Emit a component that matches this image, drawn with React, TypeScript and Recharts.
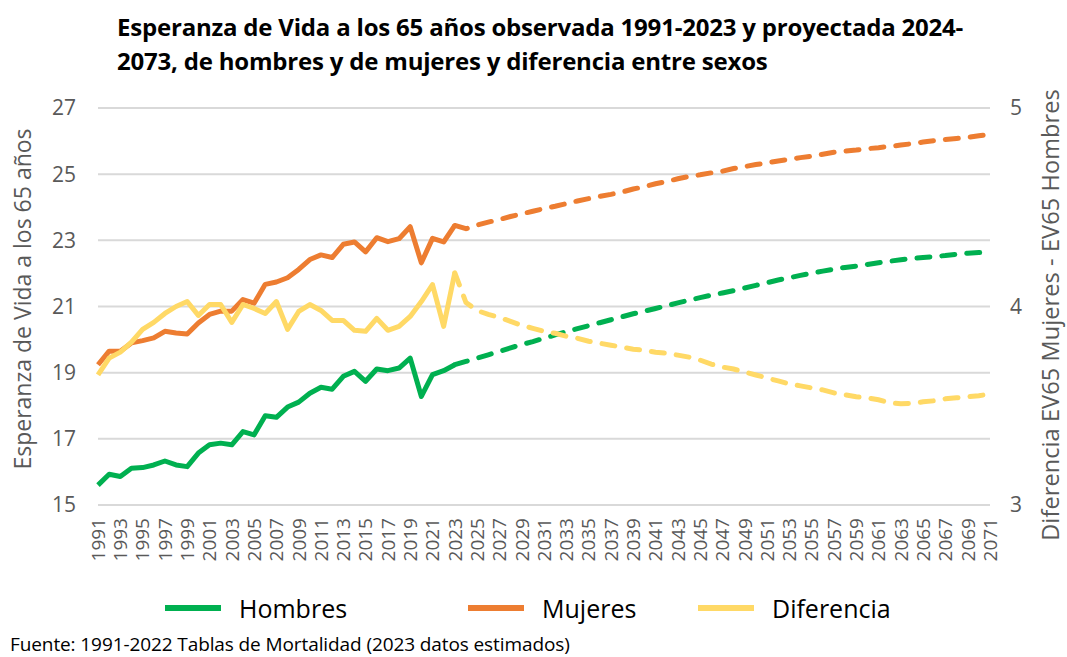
import { LineChart, Line, XAxis, YAxis, CartesianGrid } from "recharts";

const FIRST_YEAR = 1991;
const LAST_YEAR = 2071;
const PROJ_START = 2023;

const YEARS = Array.from({ length: LAST_YEAR - FIRST_YEAR + 1 }, (_, i) => FIRST_YEAR + i);

// observed 1991-2023
const HOMBRES_OBS = [15.6, 15.93, 15.86, 16.11, 16.13, 16.21, 16.33, 16.21, 16.16, 16.57, 16.82, 16.87, 16.82, 17.22, 17.12, 17.7, 17.65, 17.96, 18.11, 18.38, 18.56, 18.5, 18.89, 19.04, 18.74, 19.11, 19.06, 19.14, 19.44, 18.28, 18.94, 19.06, 19.24];
const MUJERES_OBS = [19.24, 19.65, 19.65, 19.9, 19.97, 20.05, 20.25, 20.2, 20.17, 20.5, 20.76, 20.86, 20.86, 21.21, 21.1, 21.67, 21.74, 21.87, 22.12, 22.42, 22.56, 22.48, 22.88, 22.95, 22.65, 23.08, 22.96, 23.05, 23.41, 22.32, 23.06, 22.95, 23.45];
const DIFERENCIA_OBS = [3.655, 3.74, 3.77, 3.82, 3.885, 3.92, 3.965, 4.0, 4.025, 3.955, 4.01, 4.01, 3.92, 4.01, 3.99, 3.965, 4.025, 3.885, 3.975, 4.01, 3.98, 3.93, 3.93, 3.88, 3.875, 3.94, 3.88, 3.9, 3.95, 4.025, 4.11, 3.9, 4.17];

// projected 2023-2071
const HOMBRES_PROJ = [19.24, 19.34, 19.44, 19.54, 19.64, 19.75, 19.85, 19.94, 20.04, 20.14, 20.24, 20.33, 20.42, 20.51, 20.6, 20.69, 20.78, 20.86, 20.94, 21.02, 21.11, 21.19, 21.27, 21.34, 21.41, 21.48, 21.56, 21.64, 21.72, 21.8, 21.87, 21.94, 22.01, 22.07, 22.13, 22.18, 22.22, 22.27, 22.32, 22.37, 22.41, 22.45, 22.48, 22.51, 22.54, 22.58, 22.61, 22.63, 22.65];
const MUJERES_PROJ = [23.45, 23.35, 23.46, 23.55, 23.63, 23.72, 23.8, 23.88, 23.96, 24.03, 24.11, 24.19, 24.26, 24.33, 24.39, 24.46, 24.55, 24.62, 24.71, 24.78, 24.86, 24.93, 24.98, 25.04, 25.09, 25.17, 25.23, 25.29, 25.34, 25.4, 25.45, 25.5, 25.54, 25.6, 25.66, 25.7, 25.73, 25.77, 25.8, 25.84, 25.88, 25.92, 25.97, 26.01, 26.05, 26.08, 26.11, 26.16, 26.21];
const DIFERENCIA_PROJ = [4.17, 4.02, 3.98, 3.96, 3.945, 3.925, 3.905, 3.89, 3.875, 3.865, 3.85, 3.84, 3.825, 3.815, 3.805, 3.795, 3.785, 3.78, 3.77, 3.765, 3.755, 3.745, 3.73, 3.71, 3.695, 3.685, 3.67, 3.655, 3.64, 3.625, 3.61, 3.6, 3.59, 3.58, 3.565, 3.555, 3.545, 3.54, 3.53, 3.515, 3.51, 3.512, 3.52, 3.525, 3.535, 3.54, 3.545, 3.55, 3.56];

const LEFT_TICKS = [15, 17, 19, 21, 23, 25, 27];
const RIGHT_TICKS = [3, 4, 5];

const GREEN = "#00B050";
const ORANGE = "#ED7D31";
const YELLOW = "#FFD966";
const GREY = "#595959";
const FONT = "'Open Sans', Lato, sans-serif";

const data = YEARS.map((year, i) => {
  const j = year - PROJ_START;
  return {
    year: String(year),
    hObs: HOMBRES_OBS[i],
    mObs: MUJERES_OBS[i],
    dObs: DIFERENCIA_OBS[i],
    hProj: j >= 0 ? HOMBRES_PROJ[j] : undefined,
    mProj: j >= 0 ? MUJERES_PROJ[j] : undefined,
    dProj: j >= 0 ? DIFERENCIA_PROJ[j] : undefined,
  };
});

const YearTick = (props: any) => {
  const { x, y, payload } = props;
  const ty = y + 5;
  return (
    <text x={x} y={ty} transform={`rotate(-90 ${x} ${ty})`} textAnchor="end" dy="0.36em" fill={GREY} fontSize={19} fontFamily={FONT}>
      {payload.value}
    </text>
  );
};

const LEGEND = [
  { label: "Hombres", color: GREEN, x: 165 },
  { label: "Mujeres", color: ORANGE, x: 468 },
  { label: "Diferencia", color: YELLOW, x: 698 },
];

export default function App() {
  const dash = "13 12";
  const w = 5;
  return (
    <div style={{ position: "absolute", left: 0, top: 0, width: 1067, height: 657, background: "#fff", fontFamily: FONT, overflow: "hidden" }}>
      <div style={{ position: "absolute", left: 117, top: 10, fontSize: 24, fontWeight: 700, lineHeight: "34px", color: "#000", whiteSpace: "nowrap", letterSpacing: -0.2 }}>
        Esperanza de Vida a los 65 años observada 1991-2023 y proyectada 2024-
        <br />
        2073, de hombres y de mujeres y diferencia entre sexos
      </div>

      <LineChart width={1067} height={657} data={data} margin={{ top: 108, right: 27, bottom: 92, left: 38 }}>
        <CartesianGrid yAxisId="left" vertical={false} stroke="#D9D9D9" strokeWidth={2} />
        <XAxis dataKey="year" interval={1} axisLine={false} tickLine={false} tick={<YearTick />} height={60} />
        <YAxis yAxisId="left" domain={[15, 27]} ticks={LEFT_TICKS} width={60} axisLine={false} tickLine={false} tickMargin={16} tick={{ fill: GREY, fontSize: 21, fontFamily: FONT }} />
        <YAxis yAxisId="right" orientation="right" domain={[3, 5]} ticks={RIGHT_TICKS} width={50} axisLine={false} tickLine={false} tickMargin={14} tick={{ fill: GREY, fontSize: 21, fontFamily: FONT, textAnchor: "start" }} />

        <Line yAxisId="left" dataKey="hObs" stroke={GREEN} strokeWidth={w} dot={false} isAnimationActive={false} strokeLinejoin="round" />
        <Line yAxisId="left" dataKey="mObs" stroke={ORANGE} strokeWidth={w} dot={false} isAnimationActive={false} strokeLinejoin="round" />
        <Line yAxisId="right" dataKey="dObs" stroke={YELLOW} strokeWidth={w} dot={false} isAnimationActive={false} strokeLinejoin="round" />
        <Line yAxisId="left" dataKey="hProj" stroke={GREEN} strokeWidth={w} strokeDasharray={dash} strokeLinecap="round" dot={false} isAnimationActive={false} />
        <Line yAxisId="left" dataKey="mProj" stroke={ORANGE} strokeWidth={w} strokeDasharray={dash} strokeLinecap="round" dot={false} isAnimationActive={false} />
        <Line yAxisId="right" dataKey="dProj" stroke={YELLOW} strokeWidth={w} strokeDasharray={dash} strokeLinecap="round" dot={false} isAnimationActive={false} />
      </LineChart>

      <div style={{ position: "absolute", left: 22, top: 299, transform: "translate(-50%, -50%) rotate(-90deg)", fontSize: 23, color: GREY, whiteSpace: "nowrap" }}>
        Esperanza de Vida a los 65 años
      </div>
      <div style={{ position: "absolute", left: 1050, top: 315, transform: "translate(-50%, -50%) rotate(-90deg)", fontSize: 23.5, color: GREY, whiteSpace: "nowrap", letterSpacing: 0.1 }}>
        Diferencia EV65 Mujeres - EV65 Hombres
      </div>

      {LEGEND.map((l) => (
        <div key={l.label} style={{ position: "absolute", left: l.x, top: 592, height: 32, display: "flex", alignItems: "center" }}>
          <div style={{ width: 56, height: 6, background: l.color, marginRight: 18 }} />
          <span style={{ fontSize: 25, color: "#000" }}>{l.label}</span>
        </div>
      ))}

      <div style={{ position: "absolute", left: 10, top: 631, fontSize: 19, color: "#000", whiteSpace: "nowrap", letterSpacing: -0.1 }}>
        Fuente: 1991-2022 Tablas de Mortalidad (2023 datos estimados)
      </div>
    </div>
  );
}
